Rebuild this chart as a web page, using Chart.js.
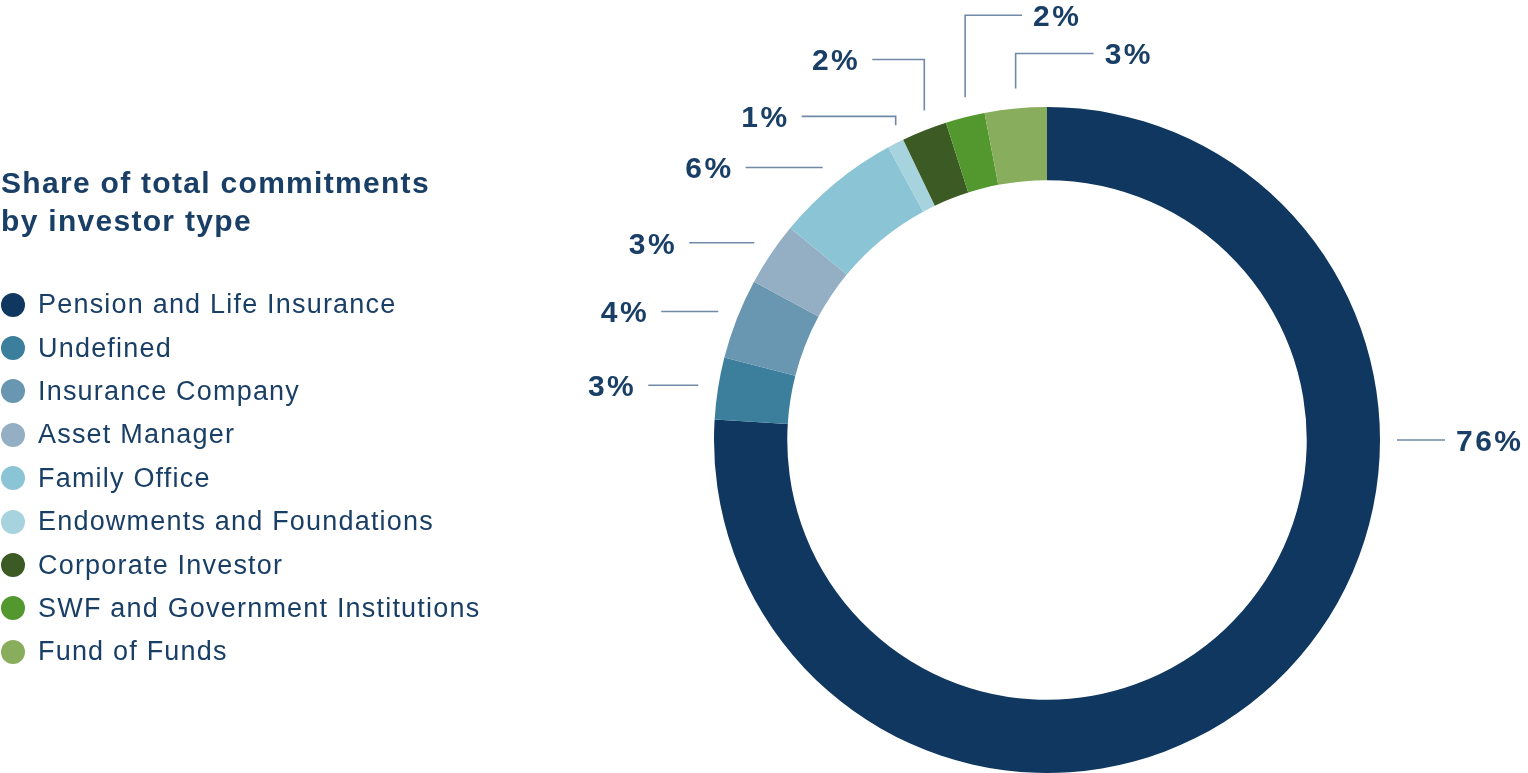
<!DOCTYPE html>
<html>
<head>
<meta charset="utf-8">
<title>Share of total commitments by investor type</title>
<script src="https://cdn.jsdelivr.net/npm/chart.js@4.4.1/dist/chart.umd.min.js"></script>
<style>
    html, body { margin: 0; padding: 0; background: #fff; }
    #wrap { position: relative; width: 1528px; height: 773px; overflow: hidden; }
    #chart { position: absolute; left: 0; top: 0; }
    .side { position: absolute; color: #1a3f66; font-family: "Liberation Sans", Arial, sans-serif; }
    #title { left: 1px; top: 164px; margin: 0; font-size: 30px; line-height: 38px; font-weight: bold; letter-spacing: 1.3px; }
    #legend { left: 0; top: 283px; list-style: none; margin: 0; padding: 0; }
    #legend li { display: flex; align-items: center; height: 43.4px; font-size: 27px; letter-spacing: 1.2px; white-space: nowrap; }
    #legend .dot { width: 24px; height: 24px; border-radius: 50%; margin-left: 1px; margin-right: 13px; flex: none; }
</style>
</head>
<body>
<div id="wrap">
    <canvas id="chart" width="1528" height="773"></canvas>
    <h2 id="title" class="side">Share of total commitments<br>by investor type</h2>
    <ul id="legend" class="side"></ul>
</div>
<script>
// Investor types, clockwise from 12 o'clock
const investorTypes = [
    'Pension and Life Insurance',
    'Undefined',
    'Insurance Company',
    'Asset Manager',
    'Family Office',
    'Endowments and Foundations',
    'Corporate Investor',
    'SWF and Government Institutions',
    'Fund of Funds'
];

// Share of total commitments, %
const commitmentShares = [75.9, 3.0, 3.9, 3.1, 6.1, 0.8, 2.2, 1.9, 3.0];

const sliceColors = [
    '#0f3760', '#3b7f9d', '#6996b0', '#94afc3', '#8bc5d5',
    '#a7d3df', '#3c5a24', '#52982f', '#88ad5c'
];

const shareText = v => Math.round(v) + '%';

// Draws the percentage labels with their leader lines
const leaderLines = {
    id: 'leaderLines',
    afterDatasetsDraw(chart, args, opts) {
        const ctx = chart.ctx;
        const meta = chart.getDatasetMeta(0);
        ctx.save();
        ctx.strokeStyle = opts.lineColor;
        ctx.lineWidth = opts.lineWidth;
        ctx.fillStyle = opts.textColor;
        ctx.font = opts.font;
        ctx.letterSpacing = opts.letterSpacing;
        ctx.textBaseline = 'alphabetic';

        meta.data.forEach((arc, i) => {
            const spec = opts.layout[i];
            const { x, y, startAngle, endAngle, outerRadius } =
                arc.getProps(['x', 'y', 'startAngle', 'endAngle', 'outerRadius'], true);
            const mid = (startAngle + endAngle) / 2;
            let pts, tx, ty, align;

            if (spec.kind === 'right') {
                // placed at 3 o'clock
                const x0 = x + outerRadius + spec.gap;
                pts = [[x0, y], [x0 + spec.len, y]];
                tx = x0 + spec.len + opts.textGapRight; ty = y; align = 'left';
            } else if (spec.kind === 'left') {
                const ax = x + Math.cos(mid) * (outerRadius + spec.gap);
                const ay = y + Math.sin(mid) * (outerRadius + spec.gap);
                pts = [[ax, ay], [ax - spec.len, ay]];
                tx = ax - spec.len - opts.textGapLeft; ty = ay; align = 'right';
            } else {
                const dir = spec.kind === 'elbowLeft' ? -1 : 1;
                const ax = x + Math.cos(mid) * outerRadius;
                const ay = y + Math.sin(mid) * outerRadius - spec.gap;
                const ky = ay - spec.rise;
                const ex = ax + dir * spec.len;
                pts = [[ax, ay], [ax, ky], [ex, ky]];
                tx = ex + dir * (dir < 0 ? opts.textGapLeft : opts.textGapRight);
                ty = ky;
                align = dir < 0 ? 'right' : 'left';
            }

            ctx.beginPath();
            pts.forEach(([px, py], k) => k ? ctx.lineTo(px, py) : ctx.moveTo(px, py));
            ctx.stroke();

            ctx.textAlign = align;
            ctx.fillText(shareText(chart.data.datasets[0].data[i]), tx, ty + opts.baselineShift);
        });
        ctx.restore();
    }
};

const chart = new Chart(document.getElementById('chart'), {
    type: 'doughnut',
    data: {
        labels: investorTypes,
        datasets: [{
            data: commitmentShares,
            backgroundColor: sliceColors,
            borderWidth: 0
        }]
    },
    options: {
        responsive: false,
        animation: false,
        cutout: '78%',
        layout: {
            padding: { left: 714, right: 148, top: 107, bottom: 0 }
        },
        plugins: {
            legend: { display: false },
            tooltip: { enabled: false },
            leaderLines: {
                lineColor: '#7089a4',
                lineWidth: 1.6,
                textColor: '#1a3f66',
                font: 'bold 30px "Liberation Sans", Arial, sans-serif',
                letterSpacing: '2.5px',
                baselineShift: 11,
                textGapLeft: 12,
                textGapRight: 11,
                layout: [
                    { kind: 'right', gap: 17, len: 48 },
                    { kind: 'left', gap: 20, len: 50 },
                    { kind: 'left', gap: 20, len: 57 },
                    { kind: 'left', gap: 20, len: 65 },
                    { kind: 'left', gap: 20, len: 77 },
                    { kind: 'elbowLeft', gap: 18, rise: 9, len: 94 },
                    { kind: 'elbowLeft', gap: 20, rise: 51, len: 52 },
                    { kind: 'elbowRight', gap: 20, rise: 82, len: 57 },
                    { kind: 'elbowRight', gap: 20, rise: 35, len: 78 }
                ]
            }
        }
    },
    plugins: [leaderLines]
});

// HTML legend built from the chart's own data
function buildLegend(chart) {
    const list = document.getElementById('legend');
    const colors = chart.data.datasets[0].backgroundColor;
    chart.data.labels.forEach((label, i) => {
        const li = document.createElement('li');
        const dot = document.createElement('span');
        dot.className = 'dot';
        dot.style.background = colors[i];
        li.appendChild(dot);
        li.appendChild(document.createTextNode(label));
        list.appendChild(li);
    });
}

buildLegend(chart);
</script>
</body>
</html>
